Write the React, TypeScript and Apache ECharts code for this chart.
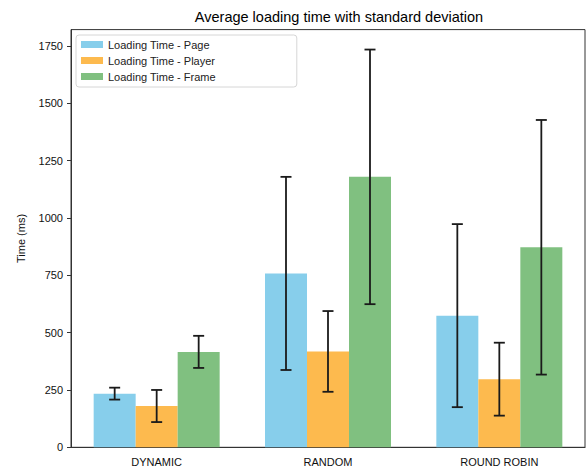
import React, { useEffect, useRef } from "react";
import * as echarts from "echarts";

const categories = ["DYNAMIC", "RANDOM", "ROUND ROBIN"];
const seriesNames = ["Loading Time - Page", "Loading Time - Player", "Loading Time - Frame"];
const pageMean = [234, 758, 574];
const pageStd = [26, 421, 399];
const playerMean = [180, 418, 297];
const playerStd = [70, 176, 159];
const frameMean = [416, 1179, 872];
const frameStd = [70, 555, 555];
const yTicks = [0, 250, 500, 750, 1000, 1250, 1500, 1750];

const colors = ["#87CEEB", "#FDBA4E", "#80C080"];
const FONT = "Liberation Sans, Arial, sans-serif";
const BAR_W = 42;

export default function App() {
  const ref = useRef<HTMLDivElement>(null);
  useEffect(() => {
    if (!ref.current) return;
    const chart = echarts.init(ref.current, undefined, { renderer: "svg" });
    const means = [pageMean, playerMean, frameMean];
    const stds = [pageStd, playerStd, frameStd];
    const barSeries: any[] = means.map((m, i) => ({
      name: seriesNames[i],
      type: "bar",
      data: m,
      barWidth: BAR_W,
      barGap: "0%",
      itemStyle: { color: colors[i] },
      z: 2,
    }));
    const errSeries: any[] = means.map((m, i) => ({
      type: "custom",
      silent: true,
      z: 5,
      data: m.map((v, j) => [j, v - stds[i][j], v + stds[i][j]]),
      encode: { x: 0, y: [1, 2] },
      renderItem: (params: any, api: any) => {
        const idx = api.value(0);
        const offset = (i - 1) * BAR_W;
        const x = api.coord([idx, 0])[0] + offset;
        const y1 = api.coord([idx, api.value(1)])[1];
        const y2 = api.coord([idx, api.value(2)])[1];
        const cap = 5.5;
        const st = { stroke: "#1a1a1a", lineWidth: 1.8 };
        return {
          type: "group",
          children: [
            { type: "line", shape: { x1: x, y1, x2: x, y2 }, style: st },
            { type: "line", shape: { x1: x - cap, y1, x2: x + cap, y2: y1 }, style: st },
            { type: "line", shape: { x1: x - cap, y1: y2, x2: x + cap, y2 }, style: st },
          ],
        };
      },
    }));
    chart.setOption({
      animation: false,
      backgroundColor: "#ffffff",
      title: {
        text: "Average loading time with standard deviation",
        left: 334,
        textAlign: "center",
        top: 4,
        textStyle: { fontFamily: FONT, fontSize: 14.5, fontWeight: "normal", color: "#000" },
      },
      legend: {
        data: seriesNames,
        orient: "vertical",
        left: 76,
        top: 35,
        padding: [4, 81, 5, 5],
        itemWidth: 22,
        itemHeight: 7,
        itemGap: 5,
        borderColor: "#d6d6d6",
        borderWidth: 1,
        borderRadius: 3,
        backgroundColor: "rgba(255,255,255,0.8)",
        icon: "rect",
        textStyle: { fontFamily: FONT, fontSize: 11, color: "#222", lineHeight: 11 },
      },
      grid: {
        left: 71,
        right: 3,
        top: 29.6,
        bottom: 24.7,
        show: true,
        borderColor: "#333",
        borderWidth: 1,
        backgroundColor: "transparent",
      },
      xAxis: {
        type: "category",
        data: categories,
        axisLine: { lineStyle: { color: "#333", width: 1 } },
        axisTick: { alignWithLabel: true, length: 4, lineStyle: { color: "#333" } },
        axisLabel: { fontFamily: FONT, fontSize: 11, color: "#111", margin: 9 },
      },
      yAxis: {
        type: "value",
        min: 0,
        max: 1821,
        interval: 250,
        name: "Time (ms)",
        nameLocation: "middle",
        nameGap: 45,
        nameTextStyle: { fontFamily: FONT, fontSize: 11, color: "#111" },
        splitLine: { show: false },
        axisLine: { show: true, lineStyle: { color: "#333", width: 1 } },
        axisTick: { show: true, length: 4, lineStyle: { color: "#333" } },
        axisLabel: {
          fontFamily: FONT,
          fontSize: 11,
          color: "#111",
          margin: 8,
          showMaxLabel: false,
          formatter: (v: number) => (yTicks.indexOf(v) >= 0 ? String(v) : ""),
        },
      },
      series: [...barSeries, ...errSeries],
    });
    return () => chart.dispose();
  }, []);
  return <div ref={ref} style={{ width: 588, height: 472, position: "absolute", left: 0, top: 0 }} />;
}
